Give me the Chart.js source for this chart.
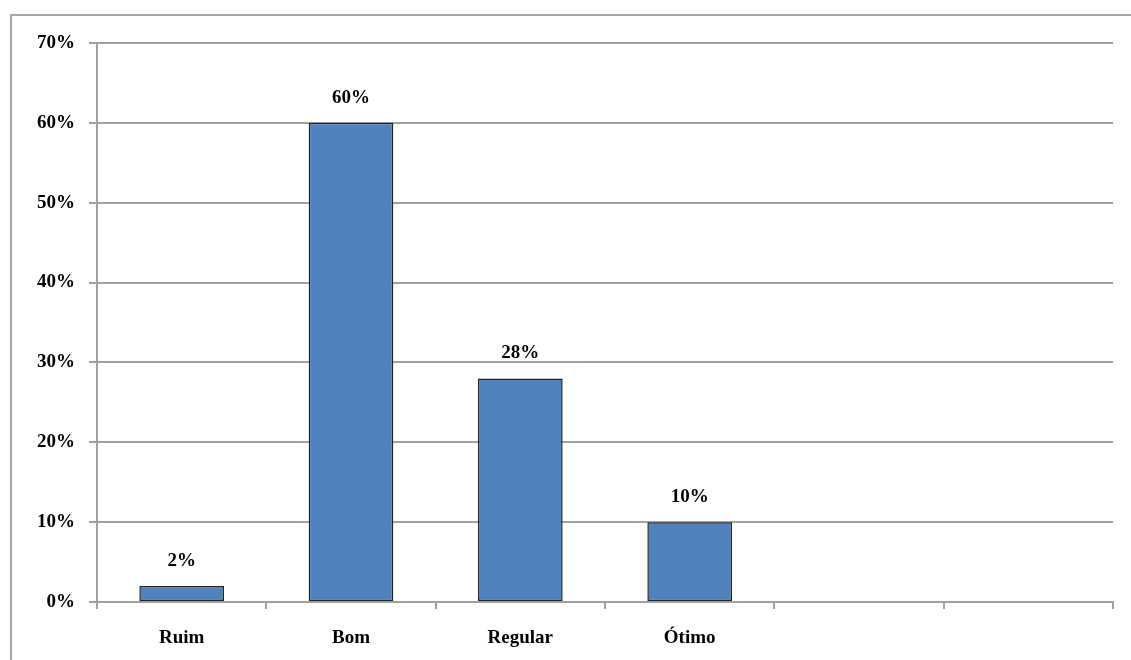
<!DOCTYPE html>
<html>
<head>
<meta charset="utf-8">
<script src="https://cdn.jsdelivr.net/npm/chart.js@4.4.1/dist/chart.umd.min.js"></script>
<style>
  html, body { margin: 0; padding: 0; background: #fff; }
  #wrap { position: relative; width: 1131px; height: 660px; }
  #frame { position: absolute; left: 10px; top: 14px; right: -5px; bottom: -5px; border-left: 2px solid #a6a6a6; border-top: 2px solid #a6a6a6; }
  canvas { position: absolute; left: 0; top: 0; }
</style>
</head>
<body>
<div id="wrap">
  <div id="frame"></div>
  <canvas id="c" width="1131" height="660"></canvas>
</div>
<script>
const categories = ['Ruim', 'Bom', 'Regular', 'Ótimo', '', ''];
const values = [2, 60, 28, 10, null, null];
const yTicks = [0, 10, 20, 30, 40, 50, 60, 70];

const FONT = { family: '"Liberation Serif", "Times New Roman", serif', size: 19, weight: 'bold' };
const GRID = '#a0a0a0';

const labelPlugin = {
  id: 'barLabels',
  afterDatasetsDraw(chart) {
    const ctx = chart.ctx;
    const meta = chart.getDatasetMeta(0);
    ctx.save();
    ctx.font = 'bold 19px "Liberation Serif", "Times New Roman", serif';
    ctx.fillStyle = '#000';
    ctx.textAlign = 'center';
    ctx.textBaseline = 'middle';
    meta.data.forEach((bar, i) => {
      const v = values[i];
      if (v === null || v === undefined) return;
      ctx.fillText(v + '%', bar.x, bar.y - 25);
    });
    ctx.restore();
  }
};

new Chart(document.getElementById('c'), {
  type: 'bar',
  data: {
    labels: categories,
    datasets: [{
      data: values,
      backgroundColor: '#4f81bd',
      borderColor: '#222222',
      borderWidth: 1.5,
      borderSkipped: false,
      categoryPercentage: 1.0,
      barPercentage: 0.5
    }]
  },
  options: {
    responsive: false,
    animation: false,
    devicePixelRatio: 1,
    layout: { padding: { left: 0, right: 18, top: 43, bottom: 0 } },
    plugins: { legend: { display: false }, tooltip: { enabled: false } },
    scales: {
      x: {
        offset: true,
        grid: { display: true, drawOnChartArea: false, drawTicks: true, tickLength: 7, color: GRID, offset: true, lineWidth: 2 },
        border: { display: true, color: GRID, width: 2 },
        ticks: { color: '#000', font: FONT, padding: 18, maxRotation: 0 },
        afterFit(s) { s.height = 58; }
      },
      y: {
        min: 0, max: 70,
        afterBuildTicks(s) { s.ticks = yTicks.map(v => ({ value: v })); },
        grid: { color: GRID, lineWidth: 2, tickLength: 8 },
        border: { display: true, color: GRID, width: 2 },
        ticks: { color: '#000', font: FONT, padding: 14, callback: v => v + '%' },
        afterFit(s) { s.width = 97; }
      }
    }
  },
  plugins: [labelPlugin]
});
</script>
</body>
</html>
